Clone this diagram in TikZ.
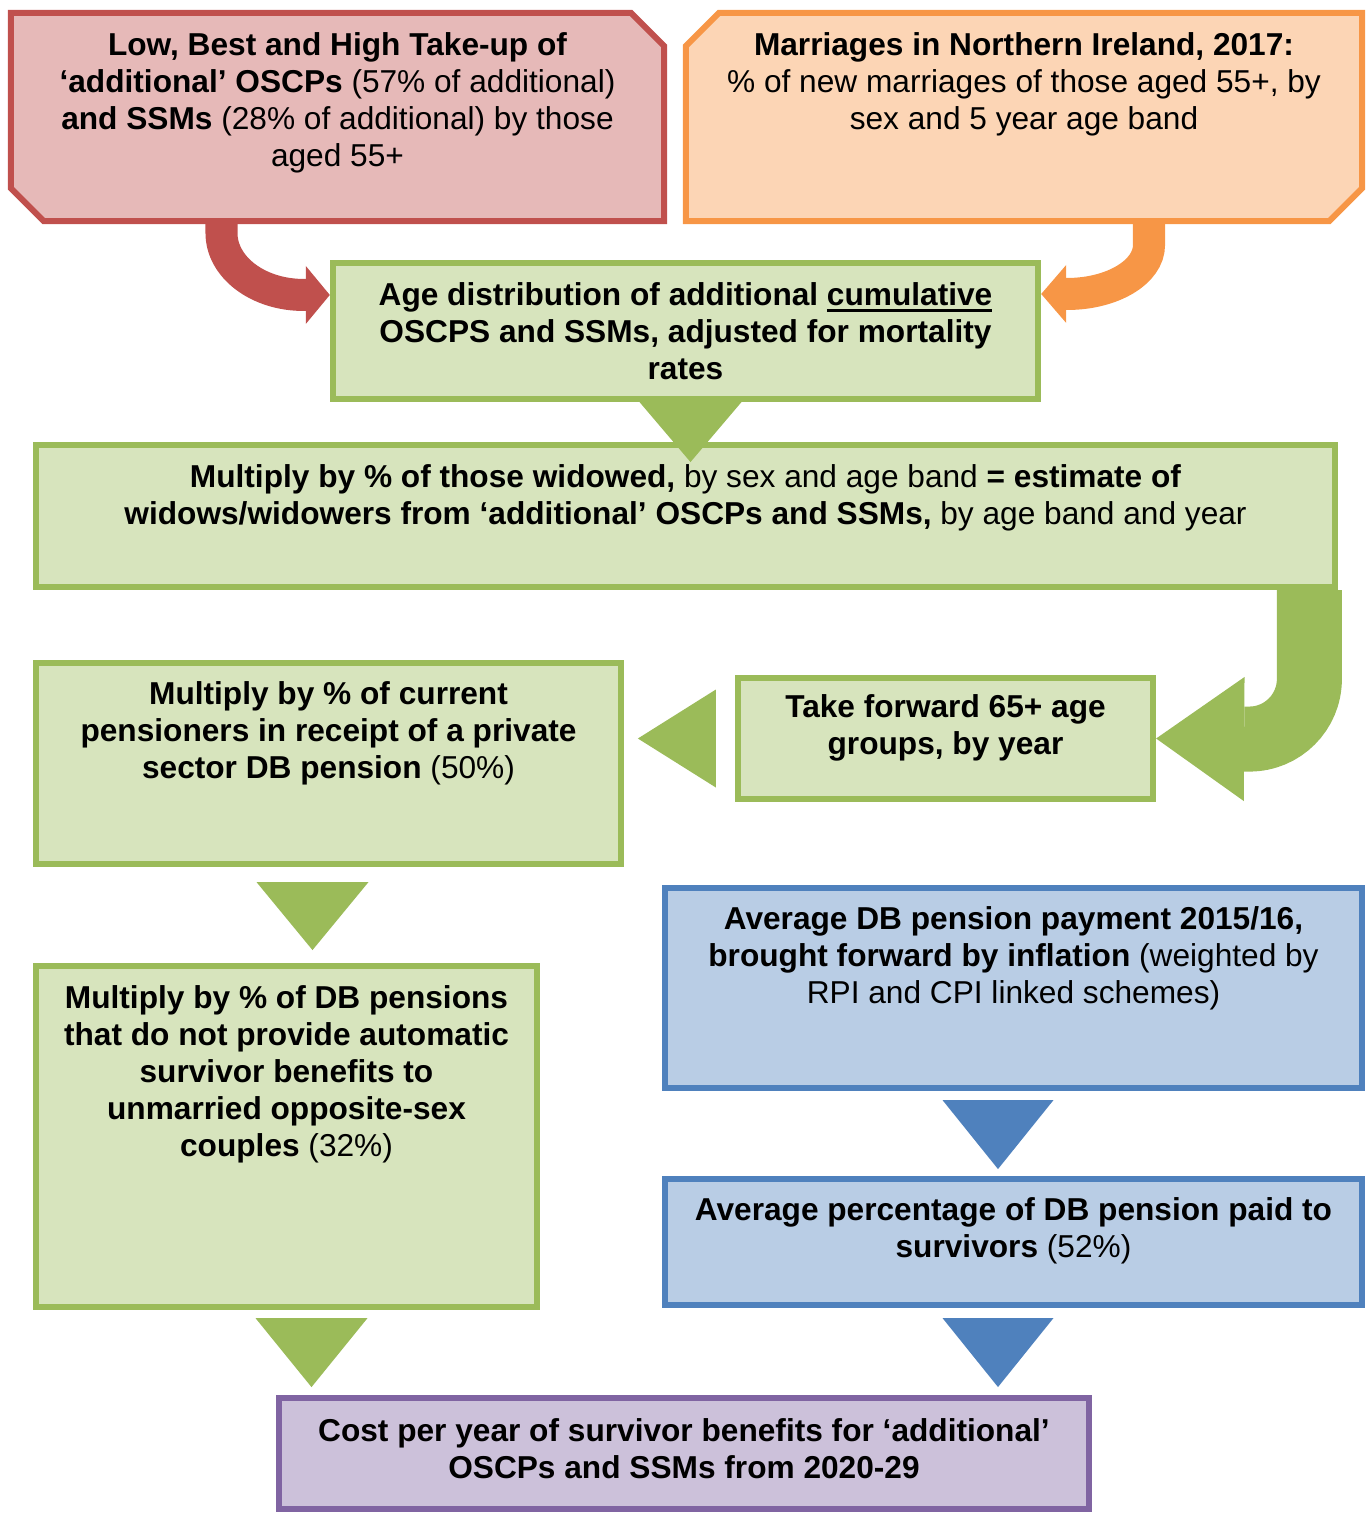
\documentclass[tikz,border=0pt]{standalone}
\usepackage{fontspec}
\setmainfont{Liberation Sans}
\usetikzlibrary{positioning,arrows.meta,calc}

\definecolor{redline}{HTML}{C0504D}
\definecolor{redfill}{HTML}{E6B9B8}
\definecolor{orangeline}{HTML}{F79646}
\definecolor{orangefill}{HTML}{FCD5B5}
\definecolor{greenline}{HTML}{9BBB59}
\definecolor{greenfill}{HTML}{D7E4BD}
\definecolor{blueline}{HTML}{4F81BD}
\definecolor{bluefill}{HTML}{B9CDE5}
\definecolor{purpleline}{HTML}{8064A2}
\definecolor{purplefill}{HTML}{CCC1DA}

\newcommand{\reg}[1]{{\mdseries #1}}
\newcommand{\thickul}[1]{\setbox0\hbox{#1}\rlap{\rule[-1.7pt]{\wd0}{0.85pt}}\box0}

\begin{document}
\begin{tikzpicture}[
  x = 0.01cm,
  y = -0.01cm,
  box/.style = {
    draw,
    line width = 0.06cm,
    inner sep = 0pt
  },
  snipbox/.style = {
    rectangle,
    inner sep = 0pt,
    outer sep = 0pt
  },
  snipline/.style = {line width = 0.06cm},
  greenbox/.style = {box, draw = greenline, fill = greenfill},
  bluebox/.style = {box, draw = blueline, fill = bluefill},
  purplebox/.style = {box, draw = purpleline, fill = purplefill},
  txt/.style = {
    align = center,
    inner sep = 0pt,
    font = \fontsize{9pt}{10.5pt}\selectfont\bfseries
  },
  redarrow/.style = {draw = redline, line width = 0.32cm,
    -{Triangle[length = 0.24cm, width = 0.58cm, line width = 0pt]}},
  orangearrow/.style = {draw = orangeline, line width = 0.32cm,
    -{Triangle[length = 0.25cm, width = 0.58cm, line width = 0pt]}},
  greenarrow/.style = {draw = greenline, line width = 0.65cm,
    -{Triangle[length = 0.88cm, width = 1.24cm, line width = 0pt]}},
  greentri/.style = {fill = greenline},
  bluetri/.style = {fill = blueline}
]
  \useasboundingbox (0, 0) rectangle (1369, 1514);

  % top row, snipped corners
  \node[snipbox, minimum width = 6.53cm, minimum height = 2.08cm] (take) at (337.5, 117) {};
  \filldraw[snipline, draw = redline, fill = redfill]
    (take.north west) -- ($(take.north east)+(-33, 0)$) -- ($(take.north east)+(0, 33)$)
    -- (take.south east) -- ($(take.south west)+(33, 0)$) -- ($(take.south west)+(0, -33)$) -- cycle;
  \node[snipbox, minimum width = 6.76cm, minimum height = 2.08cm] (marry) at (1024, 117) {};
  \filldraw[snipline, draw = orangeline, fill = orangefill]
    ($(marry.north west)+(33, 0)$) -- (marry.north east) -- ($(marry.south east)+(0, -33)$)
    -- ($(marry.south east)+(-33, 0)$) -- (marry.south west) -- ($(marry.north west)+(0, 33)$) -- cycle;
  \node[greenbox, minimum width = 7.05cm, minimum height = 1.36cm] (agedist) at (685.5, 331) {};

  \node[txt, below = 0.19cm of take.north] (take-t)
    {Low, Best and High Take-up of\\
     ‘additional’ OSCPs \reg{(57\% of additional)}\\
     and SSMs \reg{(28\% of additional) by those}\\
     \reg{aged 55+}};
  \node[txt, below = 0.19cm of marry.north] (marry-t)
    {Marriages in Northern Ireland, 2017:\\
     \reg{\% of new marriages of those aged 55+, by}\\
     \reg{sex and 5 year age band}};
  \node[txt, below = 0.22cm of agedist.north] (agedist-t)
    {Age distribution of additional \thickul{cumulative}\\
     OSCPS and SSMs, adjusted for mortality\\
     rates};

  \draw[redarrow] ($(take.south)+(-116, 0)$) -- ++(0, 12)
    .. controls +(0, 34) and +(-46, 0) .. ($(agedist.north west)+(-26, 35)$)
    -- ($(agedist.north west)+(0, 35)$);
  \draw[orangearrow] ($(marry.south)+(125, 0)$) -- ++(0, 24)
    .. controls +(0, 27) and +(45, 0) .. ($(agedist.north east)+(26, 34)$)
    -- ($(agedist.north east)+(0, 34)$);

  % middle
  \node[greenbox, minimum width = 12.99cm, minimum height = 1.42cm] (widow) at (685.5, 516) {};
  \node[txt, below = 0.22cm of widow.north] (widow-t)
    {Multiply by \% of those widowed, \reg{by sex and age band} = estimate of\\
     widows/widowers from ‘additional’ OSCPs and SSMs, \reg{by age band and year}};

  \node[greenbox, minimum width = 4.15cm, minimum height = 1.21cm] (forward) at (945.5, 738.5) {};
  \node[txt, below = 0.19cm of forward.north] (forward-t)
    {Take forward 65+ age\\
     groups, by year};

  \node[greenbox, minimum width = 5.85cm, minimum height = 2.01cm] (pension) at (328.5, 763.5) {};
  \node[txt, below = 0.21cm of pension.north] (pension-t)
    {Multiply by \% of current\\
     pensioners in receipt of a private\\
     sector DB pension \reg{(50\%)}};

  \draw[greenarrow] ($(widow.south east)+(-29, 0)$) -- ++(0, 89)
    arc[start angle = 0, end angle = 90, radius = 60] -- (forward.east);

  % bottom
  \node[greenbox, minimum width = 5.01cm, minimum height = 3.41cm] (nosurv) at (286.5, 1136.5) {};
  \node[txt, below = 0.22cm of nosurv.north] (nosurv-t)
    {Multiply by \% of DB pensions\\
     that do not provide automatic\\
     survivor benefits to\\
     unmarried opposite-sex\\
     couples \reg{(32\%)}};

  \node[bluebox, minimum width = 6.97cm, minimum height = 2.00cm] (avgpay) at (1013.5, 988) {};
  \node[txt, below = 0.21cm of avgpay.north] (avgpay-t)
    {Average DB pension payment 2015/16,\\
     brought forward by inflation \reg{(weighted by}\\
     \reg{RPI and CPI linked schemes)}};

  \node[bluebox, minimum width = 6.97cm, minimum height = 1.26cm] (pctpaid) at (1013.5, 1242) {};
  \node[txt, below = 0.21cm of pctpaid.north] (pctpaid-t)
    {Average percentage of DB pension paid to\\
     survivors \reg{(52\%)}};

  \node[purplebox, minimum width = 8.10cm, minimum height = 1.11cm] (cost) at (684, 1453.5) {};
  \node[txt, below = 0.23cm of cost.north] (cost-t)
    {Cost per year of survivor benefits for ‘additional’\\
     OSCPs and SSMs from 2020-29};

  % triangles between the steps
  \fill[greentri] ($(agedist.south)+(-46, 0)$) -- ++(102, 0) -- ++(-51, 60) -- cycle;
  \fill[greentri] ($(forward.west)+(-19, -49)$) -- ++(0, 98) -- ++(-78, -49) -- cycle;
  \fill[greentri] ($(pension.south)+(-72, 15)$) -- ++(112, 0) -- ++(-56, 68) -- cycle;
  \fill[greentri] ($(nosurv.south)+(-31, 8)$) -- ++(112, 0) -- ++(-56, 69) -- cycle;
  \fill[bluetri] ($(avgpay.south)+(-71, 9)$) -- ++(111, 0) -- ++(-55.5, 69) -- cycle;
  \fill[bluetri] ($(pctpaid.south)+(-71, 10)$) -- ++(111, 0) -- ++(-55.5, 69) -- cycle;
\end{tikzpicture}
\end{document}
